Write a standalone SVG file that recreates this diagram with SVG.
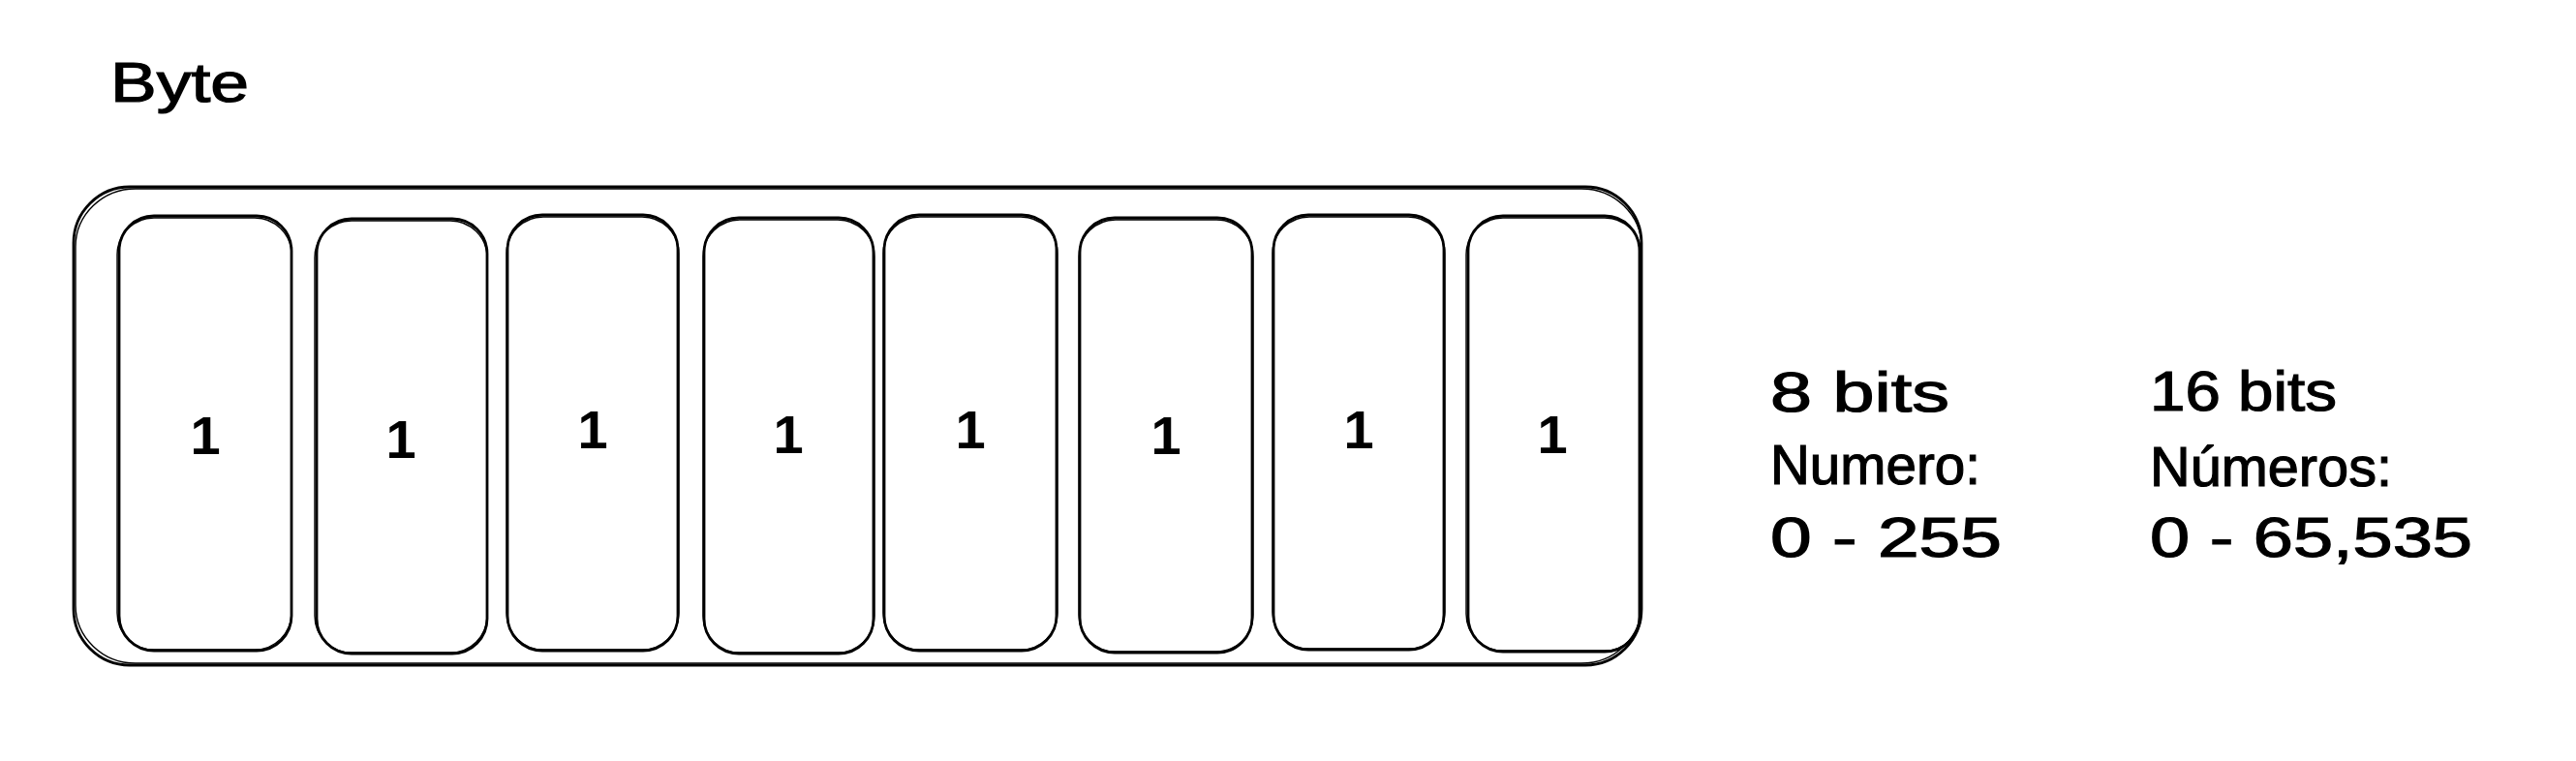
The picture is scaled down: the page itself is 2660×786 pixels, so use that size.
<svg xmlns="http://www.w3.org/2000/svg" width="2660" height="786" viewBox="0 0 2660 786">
<style>
.bg{fill:#ffffff}
.box{fill:none;stroke:#000;stroke-width:2.8;stroke-linejoin:round}
.box2{fill:none;stroke:#000;stroke-width:1.4;stroke-linejoin:round}
.t{font-family:"Liberation Sans","Noto Sans",sans-serif;font-size:58px;fill:#000;stroke:#000;stroke-width:1.2}
.bit{font-family:"Liberation Sans","Noto Sans",sans-serif;font-size:56px;font-weight:bold;fill:#000;text-anchor:middle}
</style>
<rect class="bg" x="0" y="0" width="2660" height="786"/>
<g id="title">
<text class="t" x="114" y="105" textLength="143" lengthAdjust="spacingAndGlyphs">Byte</text>
</g>
<g id="byte">
<rect class="box" x="76" y="193" width="1619" height="494" rx="58" ry="58"/>
<rect class="box2" x="78" y="195" width="1617" height="490" rx="62" ry="60"/>
</g>
<g id="bit1">
<rect class="box" x="123" y="223" width="178" height="449" rx="36" ry="36"/>
<rect class="box2" x="121" y="225" width="180" height="446" rx="38" ry="38"/>
<text class="bit" x="212" y="469">1</text>
</g>
<g id="bit2">
<rect class="box" x="327" y="226" width="176" height="449" rx="36" ry="36"/>
<rect class="box2" x="325" y="228" width="178" height="446" rx="38" ry="38"/>
<text class="bit" x="414" y="473">1</text>
</g>
<g id="bit3">
<rect class="box" x="524" y="222" width="176" height="450" rx="36" ry="36"/>
<rect class="box2" x="523" y="224" width="178" height="447" rx="38" ry="38"/>
<text class="bit" x="612" y="463">1</text>
</g>
<g id="bit4">
<rect class="box" x="727" y="225" width="175" height="450" rx="36" ry="36"/>
<rect class="box2" x="726" y="227" width="177" height="447" rx="38" ry="38"/>
<text class="bit" x="814" y="468">1</text>
</g>
<g id="bit5">
<rect class="box" x="913" y="222" width="178" height="450" rx="36" ry="36"/>
<rect class="box2" x="912" y="224" width="180" height="447" rx="38" ry="38"/>
<text class="bit" x="1002" y="463">1</text>
</g>
<g id="bit6">
<rect class="box" x="1115" y="225" width="178" height="449" rx="36" ry="36"/>
<rect class="box2" x="1114" y="227" width="180" height="446" rx="38" ry="38"/>
<text class="bit" x="1204" y="469">1</text>
</g>
<g id="bit7">
<rect class="box" x="1315" y="222" width="176" height="449" rx="36" ry="36"/>
<rect class="box2" x="1314" y="224" width="178" height="446" rx="38" ry="38"/>
<text class="bit" x="1403" y="463">1</text>
</g>
<g id="bit8">
<rect class="box" x="1516" y="223" width="177" height="450" rx="36" ry="36"/>
<rect class="box2" x="1514" y="225" width="181" height="447" rx="38" ry="38"/>
<text class="bit" x="1603" y="468">1</text>
</g>
<g id="info8">
<text class="t" x="1828" y="425" textLength="185" lengthAdjust="spacingAndGlyphs">8 bits</text>
<text class="t" x="1828" y="500" textLength="217" lengthAdjust="spacingAndGlyphs">Numero:</text>
<text class="t" x="1828" y="575" textLength="239" lengthAdjust="spacingAndGlyphs">0 - 255</text>
</g>
<g id="info16">
<text class="t" x="2220" y="424" textLength="193" lengthAdjust="spacingAndGlyphs">16 bits</text>
<text class="t" x="2220" y="502" textLength="250" lengthAdjust="spacingAndGlyphs">Números:</text>
<text class="t" x="2220" y="575" textLength="333" lengthAdjust="spacingAndGlyphs">0 - 65,535</text>
</g>
<g id="connectors"/>
</svg>
